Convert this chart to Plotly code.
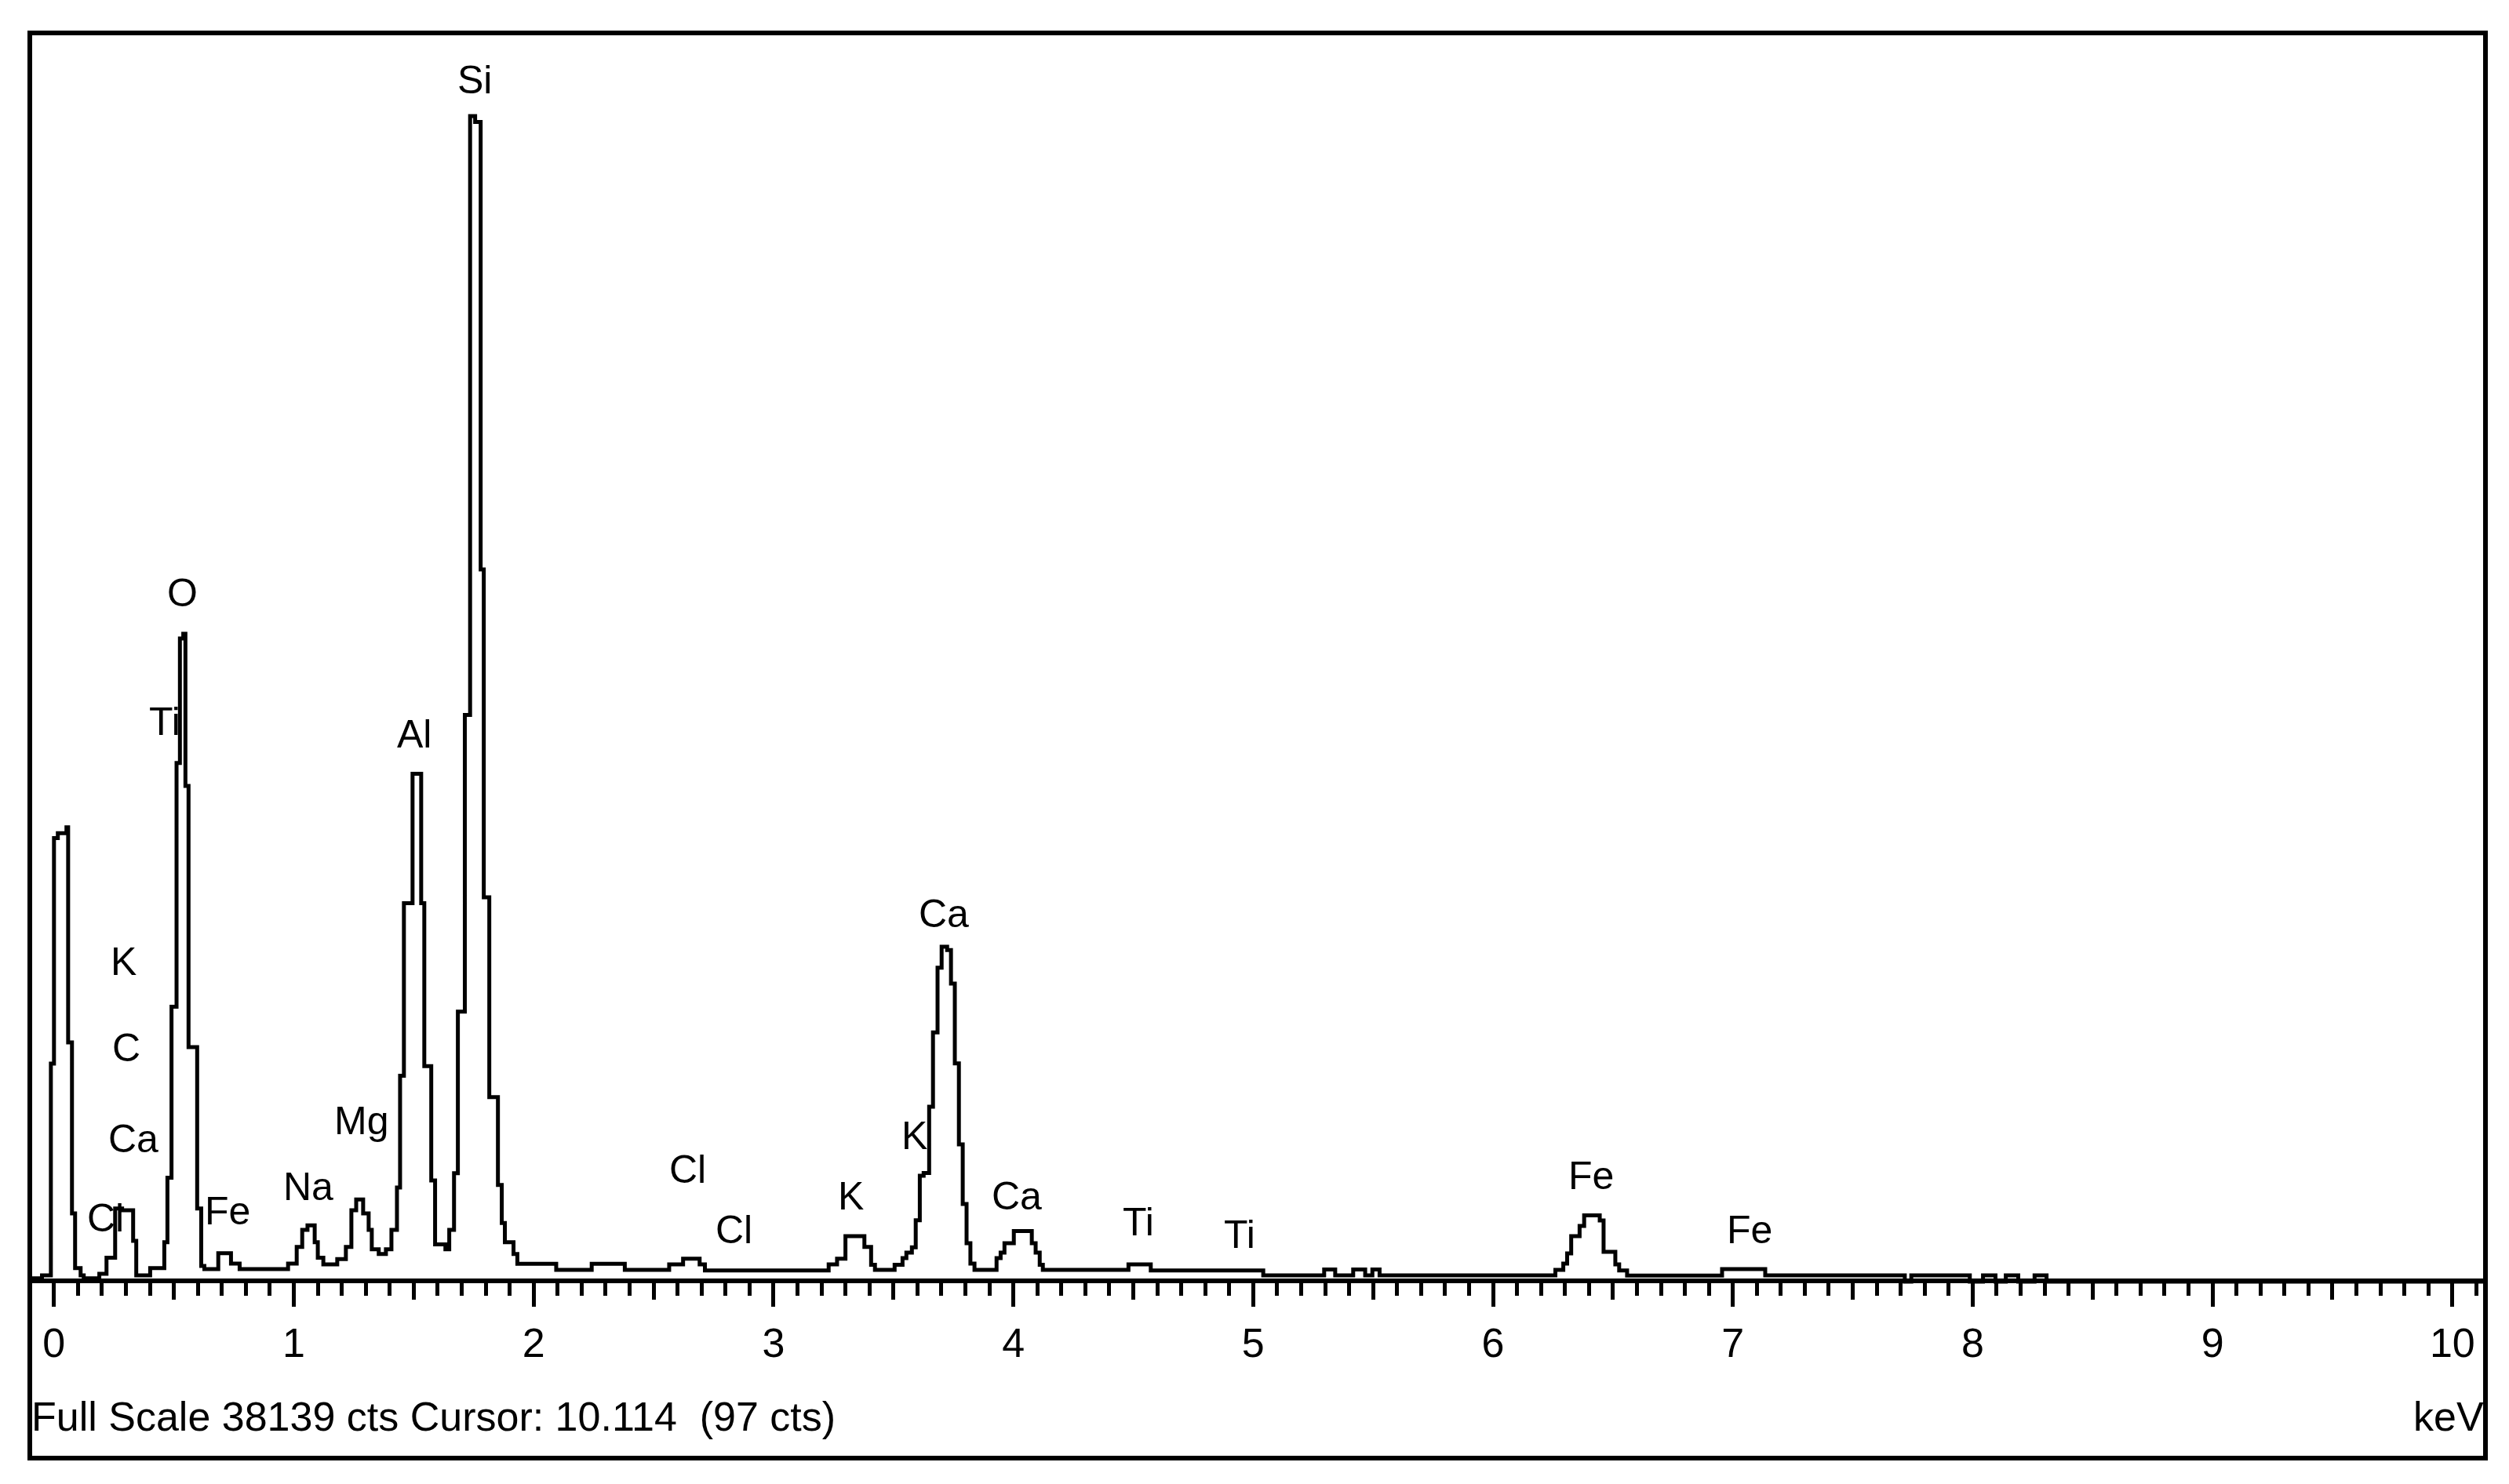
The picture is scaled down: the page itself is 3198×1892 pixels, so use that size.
import plotly.graph_objects as go

# ---- spectrum (step histogram, left edge of each channel group, keV) ----
energy_kev = [-0.105, -0.05, -0.013, 0.0, 0.016, 0.052, 0.059, 0.075, 0.088, 0.111, 0.124,
              0.189, 0.219, 0.255, 0.284, 0.330, 0.343, 0.401, 0.460, 0.473, 0.490,
              0.511, 0.525, 0.539, 0.548, 0.561, 0.597, 0.614, 0.627, 0.685, 0.738,
              0.774, 0.976, 1.012, 1.035, 1.057, 1.087, 1.100, 1.123, 1.181, 1.217,
              1.240, 1.260, 1.289, 1.312, 1.325, 1.354, 1.384, 1.407, 1.430, 1.443,
              1.459, 1.495, 1.531, 1.544, 1.573, 1.589, 1.632, 1.648, 1.668, 1.684,
              1.713, 1.735, 1.756, 1.779, 1.792, 1.815, 1.851, 1.867, 1.880, 1.916,
              1.932, 2.094, 2.242, 2.380, 2.565, 2.623, 2.692, 2.714, 3.230, 3.265,
              3.300, 3.379, 3.407, 3.423, 3.505, 3.538, 3.554, 3.577, 3.593, 3.610,
              3.626, 3.649, 3.665, 3.684, 3.701, 3.724, 3.740, 3.756, 3.773, 3.789,
              3.805, 3.821, 3.838, 3.930, 3.947, 3.963, 4.002, 4.077, 4.093, 4.110,
              4.123, 4.480, 4.573, 5.042, 5.296, 5.342, 5.417, 5.467, 5.497, 5.527,
              6.260, 6.293, 6.309, 6.326, 6.361, 6.380, 6.445, 6.461, 6.510, 6.526,
              6.559, 6.955, 7.135, 7.717, 7.744, 7.988, 8.043, 8.095, 8.138, 8.190,
              8.258, 8.308, 10.14]
counts = [100, 190, 6655, 13540, 13690, 13870, 7300, 2080, 410, 190, 100,
          240, 730, 2230, 2180, 1245, 190, 410, 1200, 3170, 8390,
          15830, 19630, 19775, 15130, 7160, 2230, 480, 380, 870, 550,
          380, 550, 1060, 1580, 1720, 1200, 730, 525, 690, 1060,
          2180, 2510, 2080, 1580, 990, 845, 990, 1580, 2875, 6285,
          11550, 15500, 11550, 6580, 3090, 1135, 990, 1580, 3310, 8240,
          17300, 35575, 35400, 21740, 11730, 5630, 2950, 1790, 1200, 845,
          545, 360, 545, 360, 525, 700, 525, 340, 525, 700,
          1390, 1060, 515, 360, 515, 720, 885, 1050, 1875, 3230,
          3315, 5340, 7610, 9580, 10220, 10120, 9100, 6660, 4190, 2370,
          1175, 550, 360, 720, 885, 1175, 1545, 1175, 885, 515,
          360, 525, 340, 190, 370, 190, 370, 190, 370, 190,
          360, 550, 860, 1390, 1700, 2020, 1865, 910, 525, 340,
          185, 380, 190, 0, 190, 0, 190, 0, 190, 0,
          190, 0, 0]

# ---- peak labels ----
label_text = ["Si", "O", "Ti", "Al", "K", "C", "Ca", "Cl", "Fe", "Na", "Mg",
              "Cl", "Cl", "K", "K", "Ca", "Ca", "Ti", "Ti", "Fe", "Fe"]
label_kev = [1.755, 0.536, 0.463, 1.501, 0.290, 0.303, 0.330, 0.215, 0.722, 1.062, 1.282,
             2.642, 2.836, 3.322, 3.588, 3.709, 4.015, 4.522, 4.942, 6.410, 7.071]
label_cts = [36680, 21010, 17090, 16710, 9780, 7140, 4360, 1950, 2160, 2900, 4900,
             3430, 1580, 2600, 4460, 11240, 2600, 1820, 1430, 3230, 1580]

major_ticks = list(range(0, 11))
full_scale = 38139
footer_text = "Full Scale 38139 cts Cursor: 10.114  (97 cts)"
unit_text = "keV"

FONT = "Liberation Sans, Arial, sans-serif"
FS_AXIS = 52
FS_LABEL = 50

x_range = [-0.1008, 10.138]
y_range = [-5387, 38115]
axis_pos = (1851 - 1625) / 1817.0

fig = go.Figure()
fig.add_trace(go.Scatter(x=energy_kev, y=counts, mode="lines",
                         line=dict(color="black", width=5, shape="hv"),
                         hoverinfo="skip", showlegend=False))
# helper trace for the half-keV tick axis
fig.add_trace(go.Scatter(x=[0.5, 9.5], y=[0, 0], xaxis="x2", mode="lines",
                         line=dict(width=0), opacity=0, hoverinfo="skip", showlegend=False))

for t, xv, yv in zip(label_text, label_kev, label_cts):
    fig.add_annotation(x=xv, y=yv, text=t, showarrow=False, xref="x", yref="y",
                       xanchor="center", yanchor="middle",
                       font=dict(family=FONT, size=FS_LABEL, color="black"))

fig.add_annotation(x=0.0, y=0.029, xref="paper", yref="paper", text=footer_text,
                   showarrow=False, xanchor="left", yanchor="middle",
                   font=dict(family=FONT, size=FS_AXIS, color="black"))
fig.add_annotation(x=1.0, y=0.029, xref="paper", yref="paper", text=unit_text,
                   showarrow=False, xanchor="right", yanchor="middle",
                   font=dict(family=FONT, size=FS_AXIS, color="black"))

# outer frame
fig.add_shape(type="rect", xref="paper", yref="paper", x0=0, y0=0, x1=1, y1=1,
              line=dict(color="black", width=6), layer="above")

fig.update_layout(
    width=3198, height=1892,
    margin=dict(l=30, r=38, t=34, b=41, pad=0),
    paper_bgcolor="white", plot_bgcolor="white",
    xaxis=dict(range=x_range, anchor="free", position=axis_pos,
               showgrid=False, zeroline=False,
               showline=True, linecolor="black", linewidth=6,
               tickmode="array", tickvals=major_ticks,
               ticktext=[str(v) for v in major_ticks],
               ticks="outside", ticklen=30, tickwidth=4.5, tickcolor="black",
               ticklabelstandoff=2,
               tickfont=dict(family=FONT, size=FS_AXIS, color="black"),
               minor=dict(dtick=0.1, tick0=0, ticks="outside", ticklen=16,
                          tickwidth=4.5, tickcolor="black", showgrid=False)),
    xaxis2=dict(range=x_range, overlaying="x", anchor="free", position=axis_pos,
                showgrid=False, zeroline=False, showline=False,
                tickmode="linear", tick0=0.5, dtick=1,
                ticks="outside", ticklen=23, tickwidth=4.5, tickcolor="black",
                showticklabels=False),
    yaxis=dict(range=y_range, visible=False, showgrid=False, zeroline=False),
)

fig.write_html("out.html")
